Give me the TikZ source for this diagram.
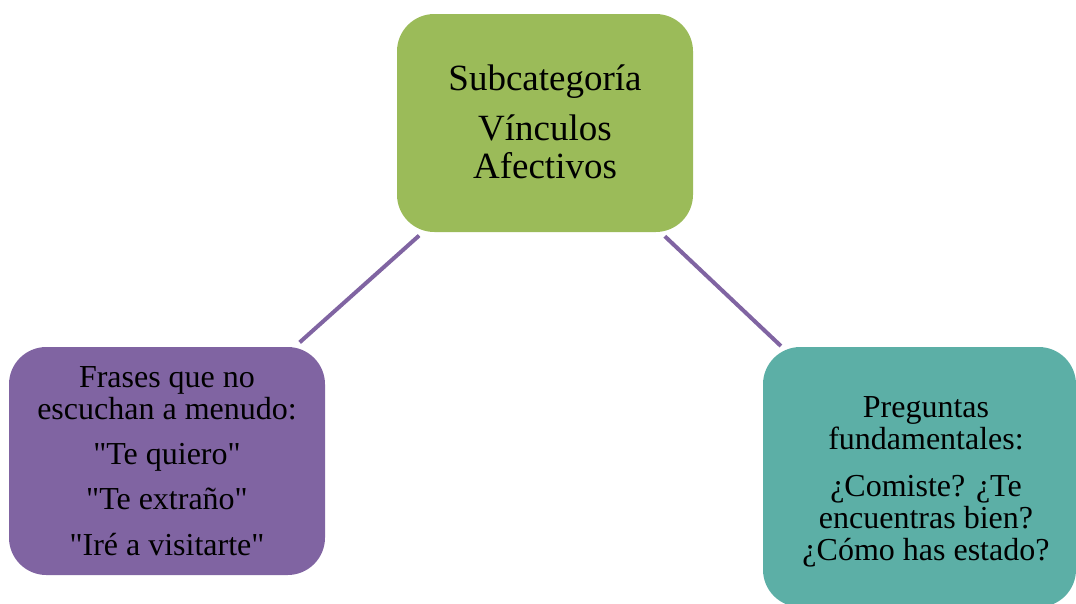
\documentclass[tikz,border=0pt]{standalone}
\usepackage{fontspec}
\setmainfont{Liberation Serif}
\usetikzlibrary{calc}
\definecolor{boxgreen}{HTML}{9BBB59}
\definecolor{boxpurple}{HTML}{8064A2}
\definecolor{boxteal}{HTML}{5CAFA6}
\definecolor{linkpurple}{HTML}{8064A2}
\tikzset{
  box/.style={rectangle, rounded corners=28pt, inner sep=0pt, draw=none},
  conn/.style={draw=linkpurple, line width=3pt},
  bigtxt/.style={anchor=base, align=center, inner sep=0pt, font=\fontsize{27.75pt}{28.5pt}\selectfont},
  smalltxt/.style={anchor=base, align=center, inner sep=0pt, font=\fontsize{24pt}{24pt}\selectfont},
}
\newcommand{\dq}{\textquotedbl}
\begin{document}
\begin{tikzpicture}[x=0.75pt, y=-0.75pt]
\useasboundingbox (0,0) rectangle (1076,604);
\begin{scope}
\clip (0,0) rectangle (1076,604);
\node[box, fill=boxgreen, minimum width=222pt, minimum height=163.5pt] (top) at (545,123) {};
\node[box, fill=boxpurple, minimum width=237pt, minimum height=171pt] (left) at (167,461) {};
\node[box, fill=boxteal, minimum width=234.75pt, minimum height=195pt] (right) at (919.5,477) {};
\end{scope}
\draw[conn] ($(top)!0.333!(left)$) -- ($(top)!0.649!(left)$);
\draw[conn] ($(top)!0.32!(right)$) -- ($(top)!0.63!(right)$);
\node[bigtxt] (toptext) at (545,178) {Subcategoría\\[9pt]Vínculos\\Afectivos};
\node[smalltxt] (lefttext) at (167,555) {Frases que no\\escuchan a menudo:\\[10pt]\dq Te quiero\dq\\[10pt]\dq Te extraño\dq\\[10pt]\dq Iré a visitarte\dq};
\node[smalltxt] (righttext) at (926,560) {Preguntas\\fundamentales:\\[11pt]¿Comiste? ¿Te\\encuentras bien?\\¿Cómo has estado?};
\end{tikzpicture}
\end{document}
